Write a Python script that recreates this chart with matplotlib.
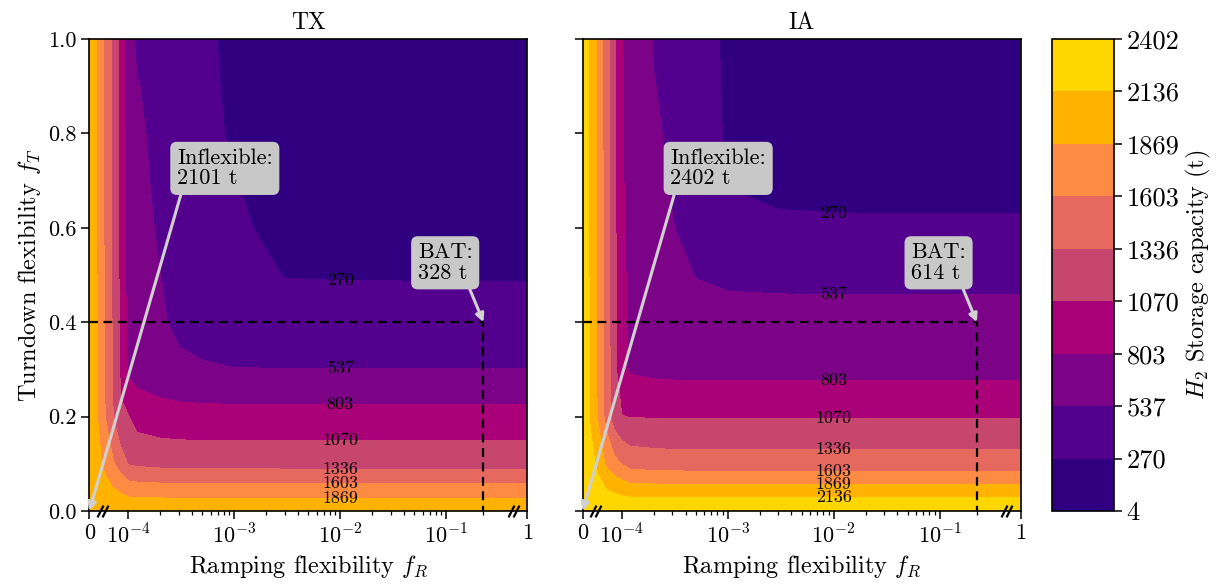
import numpy as np
import matplotlib
matplotlib.use('Agg')
import matplotlib.pyplot as plt
from matplotlib.ticker import FixedLocator, FixedFormatter
from matplotlib.transforms import offset_copy

plt.rcParams['font.family'] = 'serif'
plt.rcParams['font.serif'] = ['cmr10']
plt.rcParams['mathtext.fontset'] = 'cm'
plt.rcParams['axes.formatter.use_mathtext'] = True

# ---------------- data ----------------
FR_GRID = [0, 2e-5, 4e-5, 6e-5, 8e-5, 1e-4, 1.2e-4, 2e-4, 3e-4, 5e-4,
           1e-3, 3e-3, 1e-2, 1e-1, 1]
FT_GRID = [0.0, 0.1, 0.2, 0.3, 0.4, 0.5, 0.6, 0.7, 0.8, 0.9, 1.0]

# storage capacity (t), rows = f_T, columns = f_R
Z_TX = [
    [2101, 2101, 2101, 2101, 2101, 2101, 2101, 2101, 2101, 2101, 2101, 2101, 2101, 2101, 2101],
    [2101, 1960, 1800, 1640, 1480, 1320, 1290, 1260, 1250, 1245, 1242, 1241, 1241, 1241, 1241],
    [2101, 1880, 1610, 1350, 1090, 1080, 960, 910, 895, 893, 892, 892, 892, 892, 892],
    [2101, 1875, 1590, 1320, 1040, 760, 700, 640, 600, 570, 545, 541, 540, 540, 540],
    [2101, 1870, 1580, 1310, 1020, 720, 660, 570, 470, 400, 345, 335, 330, 328, 328],
    [2101, 1865, 1570, 1300, 1010, 700, 640, 540, 440, 370, 310, 265, 262, 261, 261],
    [2101, 1860, 1565, 1295, 1000, 680, 620, 500, 410, 350, 280, 240, 235, 240, 240],
    [2101, 1855, 1560, 1290, 995, 670, 600, 470, 395, 335, 272, 225, 215, 210, 210],
    [2101, 1850, 1555, 1285, 990, 660, 580, 450, 380, 320, 240, 215, 205, 200, 200],
    [2101, 1850, 1550, 1280, 985, 650, 550, 430, 370, 310, 225, 205, 200, 195, 195],
    [2101, 1850, 1550, 1280, 980, 640, 493, 420, 360, 300, 220, 200, 195, 190, 190],
]
Z_IA = [
    [2402, 2402, 2402, 2402, 2402, 2402, 2402, 2402, 2402, 2402, 2402, 2402, 2402, 2402, 2402],
    [2402, 2250, 2050, 1830, 1700, 1590, 1500, 1470, 1460, 1458, 1457, 1457, 1457, 1457, 1457],
    [2402, 2090, 1830, 1510, 1200, 1080, 1060, 1056, 1055, 1054, 1054, 1054, 1054, 1054, 1054],
    [2402, 2080, 1815, 1495, 1180, 850, 775, 740, 730, 727, 726, 725, 725, 725, 725],
    [2402, 2075, 1810, 1490, 1170, 840, 780, 700, 660, 630, 618, 615, 614, 614, 614],
    [2402, 2072, 1805, 1485, 1165, 835, 770, 660, 600, 530, 495, 485, 482, 481, 481],
    [2402, 2070, 1800, 1478, 1155, 825, 760, 620, 550, 380, 320, 305, 300, 300, 300],
    [2402, 2068, 1797, 1474, 1150, 820, 750, 600, 510, 350, 260, 215, 205, 200, 200],
    [2402, 2067, 1796, 1472, 1147, 818, 740, 570, 490, 340, 250, 195, 185, 180, 180],
    [2402, 2066, 1795, 1470, 1145, 816, 730, 545, 470, 335, 245, 185, 175, 170, 170],
    [2402, 2066, 1795, 1470, 1144, 815, 720, 520, 450, 330, 240, 180, 170, 165, 165],
]

LEVELS = [4, 270, 537, 803, 1070, 1336, 1603, 1869, 2136, 2402]
REGIONS = ['TX', 'IA']
INFLEXIBLE = [2101, 2402]
BAT_VALUE = [328, 614]
BAT_FR = 0.225
BAT_FT = 0.4
BREAK_FR = [3.4e-5, 0.68]

X_TICKS = [0, 1e-4, 1e-3, 1e-2, 1e-1, 1]
X_TICKLABELS = ['0', '$10^{-4}$', '$10^{-3}$', '$10^{-2}$', '$10^{-1}$', '1']
X_MINOR = [k * 10.0 ** d for d in (-4, -3, -2) for k in range(2, 10)] + [BAT_FR]

# band colours (plasma-like, as in the figure), low -> high
BAND_COLORS = ['#310080', '#54008e', '#7c0388', '#aa0078', '#c7466f',
               '#e7685f', '#fd8b43', '#ffb200', '#ffd600']

# ---------------- broken log axis for f_R ----------------
U0, U1 = -4.369, -0.234      # axis positions of f_R = 0 and f_R = 1
XB = 0.3                     # end of the log section
LXB = np.log10(XB)


def fwd(x):
    x = np.asarray(x, float)
    lo = U0 + x / 1e-4 * (-4 - U0)
    lg = np.log10(np.clip(x, 1e-4, XB))
    hi = LXB + (x - XB) / (1 - XB) * (U1 - LXB)
    return np.where(x < 1e-4, lo, np.where(x > XB, hi, lg))


def inv(u):
    u = np.asarray(u, float)
    lo = (u - U0) / (-4 - U0) * 1e-4
    lg = 10 ** np.clip(u, -4, LXB)
    hi = XB + (u - LXB) / (U1 - LXB) * (1 - XB)
    return np.where(u < -4, lo, np.where(u > LXB, hi, lg))


fig = plt.figure(figsize=(12.17, 5.86), dpi=100)
ax_tx = fig.add_axes([0.0734, 0.128, 0.3599, 0.8055])
ax_ia = fig.add_axes([0.4788, 0.128, 0.3599, 0.8055])
cax = fig.add_axes([0.8648, 0.128, 0.0505, 0.8055])

INF_TEXT_XY = (0.20, 0.768)
BAT_TEXT_XY = (0.75, 0.568)

for ax, name, Z, inflex, bat in zip([ax_tx, ax_ia], REGIONS, [Z_TX, Z_IA],
                                    INFLEXIBLE, BAT_VALUE):
    Z = np.array(Z, float)
    ax.set_xscale('function', functions=(fwd, inv))
    cs = ax.contourf(FR_GRID, FT_GRID, Z, levels=LEVELS, colors=BAND_COLORS)
    ax.set_xlim(0, 1)
    ax.set_ylim(0, 1)

    # contour value labels along f_R = 1e-2
    zc = Z[:, FR_GRID.index(1e-2)]
    for lev in LEVELS[1:-1]:
        if zc.min() < lev < zc.max():
            yl = np.interp(lev, zc[::-1], np.array(FT_GRID)[::-1])
            ax.text(1e-2, yl, str(lev), ha='center', va='center', fontsize=13)

    # BAT dashed guide lines
    ax.plot([0, BAT_FR, BAT_FR], [BAT_FT, BAT_FT, 0], color='k', ls=(0, (4, 2.5)),
            lw=1.6, zorder=3)

    box = dict(boxstyle='round,pad=0.3', fc='#c8c8c8', ec='none')
    ax.annotate(f'Inflexible:\n{inflex} t', xy=(0, 0), xytext=INF_TEXT_XY,
                textcoords='axes fraction', ha='left', va='top', fontsize=16,
                linespacing=1.05, bbox=box, annotation_clip=False, zorder=6,
                arrowprops=dict(arrowstyle='-|>', color='#d0d0d0', lw=2.2,
                                relpos=(0.06, 0), shrinkA=0, shrinkB=0,
                                mutation_scale=12))
    ax.annotate(f'BAT:\n{bat} t', xy=(BAT_FR, BAT_FT), xytext=BAT_TEXT_XY,
                textcoords='axes fraction', ha='left', va='top', fontsize=16,
                linespacing=1.05, bbox=box, annotation_clip=False, zorder=6,
                arrowprops=dict(arrowstyle='-|>', color='#d0d0d0', lw=2.2,
                                relpos=(0.9, 0), shrinkA=0, shrinkB=0,
                                mutation_scale=12))

    # axis-break marks
    for xb in BREAK_FR:
        for dx in (-1.8, 1.8):
            tr = offset_copy(ax.get_xaxis_transform(), fig=fig, x=dx, y=0,
                             units='points')
            ax.plot([xb], [0], marker=[(-1, -2), (1, 2)], ms=8.5, mew=1.6,
                    color='k', transform=tr, clip_on=False, zorder=7)

    ax.xaxis.set_major_locator(FixedLocator(X_TICKS))
    ax.xaxis.set_major_formatter(FixedFormatter(X_TICKLABELS))
    ax.xaxis.set_minor_locator(FixedLocator(X_MINOR))
    ax.set_yticks([0, 0.2, 0.4, 0.6, 0.8, 1.0])
    ax.tick_params(which='major', length=5.5, width=1.1, labelsize=16)
    ax.tick_params(which='minor', length=3.2, width=0.9)
    for sp in ax.spines.values():
        sp.set_linewidth(1.2)
    ax.set_title(name, fontsize=17, pad=7)
    ax.set_xlabel('Ramping flexibility $f_R$', fontsize=17.5, labelpad=4)

ax_tx.set_ylabel('Turndown flexibility $f_T$', fontsize=17.5)
ax_tx.set_yticklabels(['0.0', '0.2', '0.4', '0.6', '0.8', '1.0'])
ax_ia.tick_params(labelleft=False)

cb = fig.colorbar(cs, cax=cax, ticks=LEVELS)
cb.set_ticklabels([str(v) for v in LEVELS])
cb.ax.tick_params(labelsize=19, length=5.5, width=1.1)
cb.outline.set_linewidth(1.2)
cb.set_label('$H_2$ Storage capacity (t)', fontsize=17.5, labelpad=3)

fig.savefig('out.png', dpi=100)
